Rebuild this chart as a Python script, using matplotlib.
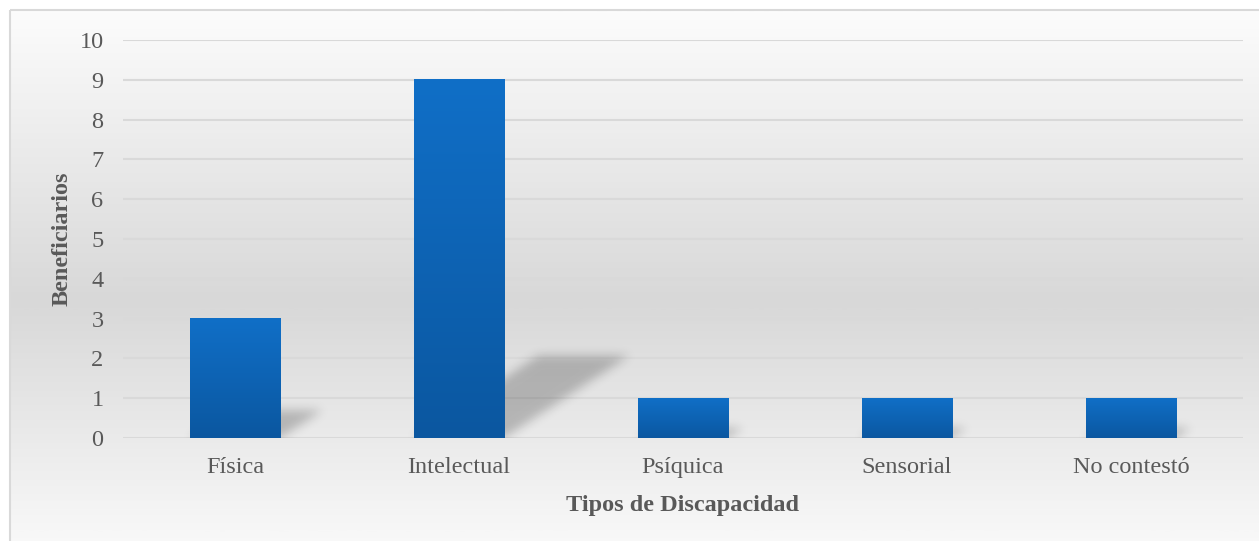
import numpy as np
import matplotlib
matplotlib.use("Agg")
import matplotlib.pyplot as plt
from matplotlib.patches import Rectangle
from matplotlib.colors import LinearSegmentedColormap

categories = ["Física", "Intelectual", "Psíquica", "Sensorial", "No contestó"]
values = [3, 9, 1, 1, 1]
yticks = list(range(0, 11))

W, H = 1259, 541
fig = plt.figure(figsize=(W / 100, H / 100), dpi=100)
plt.rcParams['font.family'] = ['Liberation Serif', 'DejaVu Serif']

# background panel with vertical gradient
bg = fig.add_axes([0, 0, 1, 1], zorder=0)
bg.set_xlim(0, W)
bg.set_ylim(H, 0)
bg.axis('off')
cm_bg = LinearSegmentedColormap.from_list(
    'bg', [(0, '#fcfcfc'), (0.52, '#d8d8d8'), (1, '#fcfcfc')])
grad = np.linspace(0, 1, 300).reshape(-1, 1)
bg.imshow(grad, cmap=cm_bg, extent=[10, W + 5, 570, 10], aspect='auto', vmin=0, vmax=1)
bg.add_patch(Rectangle((10, 10), W, 600, fill=False, edgecolor='#d9d9d9', lw=1.5))

# plot axes: x 123..1243, y 40..438 (10..0)
left, right = 123 / W, 1243 / W
top, bottom = 40 / H, 438 / H
ax = fig.add_axes([left, 1 - bottom, right - left, bottom - top], zorder=1)
ax.patch.set_alpha(0)
n = len(categories)
ax.set_xlim(-0.5, n - 0.5)
ax.set_ylim(0, 10)
for s in ax.spines.values():
    s.set_visible(False)
ax.set_yticks(yticks)
ax.yaxis.grid(True, color='#d9d9d9', lw=1.5)
ax.set_axisbelow(True)
ax.tick_params(length=0, labelsize=17.5, labelcolor='#595959')
ax.tick_params(axis='y', pad=14)
ax.tick_params(axis='x', pad=14)
ax.set_xticks(range(n))
ax.set_xticklabels(categories)
ax.set_ylabel('Beneficiarios', fontsize=17.5, fontweight='bold', color='#595959', labelpad=5)
ax.set_xlabel('Tipos de Discapacidad', fontsize=17.5, fontweight='bold', color='#595959', labelpad=12)

bw = 0.406

# blurred perspective shadows, rendered as an image over the axes grid
NX, NY = 1120, 400
xs = np.linspace(-0.5, n - 0.5, NX)
ys = np.linspace(0, 10, NY)
XX, YY = np.meshgrid(xs, ys)
mask = np.zeros_like(XX)
for i, v in enumerate(values):
    dy = 0.23 * v
    dx = dy * 0.27
    t = YY / dy
    x0 = i - bw / 2 + dx * t
    x1 = i + bw / 2 + dx * t
    inside = (YY >= 0) & (YY <= dy) & (XX >= x0) & (XX <= x1)
    mask = np.maximum(mask, inside.astype(float))
sig = 5.0
k = np.arange(-15, 16)
kern = np.exp(-k ** 2 / (2 * sig ** 2))
kern /= kern.sum()
mask = np.apply_along_axis(lambda r: np.convolve(r, kern, mode='same'), 1, mask)
mask = np.apply_along_axis(lambda c: np.convolve(c, kern, mode='same'), 0, mask)
rgba = np.zeros((NY, NX, 4))
rgba[..., 3] = mask * 0.22
ax.imshow(rgba, extent=[-0.5, n - 0.5, 0, 10], origin='lower', aspect='auto', zorder=2)

# bars with vertical gradient
cm_bar = LinearSegmentedColormap.from_list('bar', ['#0b57a0', '#106fc7'])
for i, v in enumerate(values):
    g = np.linspace(0, 1, 200).reshape(-1, 1)
    ax.imshow(g, cmap=cm_bar, extent=[i - bw / 2, i + bw / 2, 0, v], origin='lower',
              aspect='auto', zorder=3)
ax.set_xlim(-0.5, n - 0.5)
ax.set_ylim(0, 10)

fig.savefig('out.png', dpi=100)
